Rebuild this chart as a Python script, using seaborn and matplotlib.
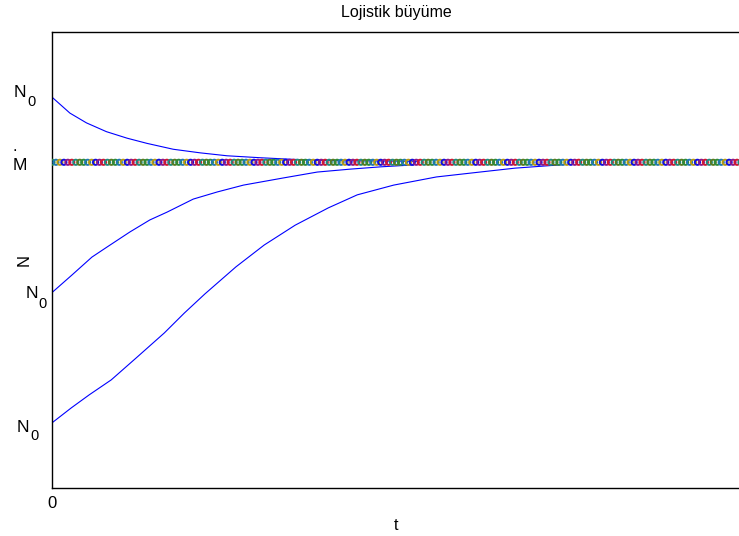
import numpy as np
import pandas as pd
import matplotlib
matplotlib.use("Agg")
import matplotlib.pyplot as plt
import matplotlib.transforms as mtrans
import seaborn as sns

# ---- data ----
M = 1.0
t_top = [0, 0.26, 0.50, 0.79, 1.09, 1.38, 1.76, 2.15, 2.54, 3.02, 3.50, 4.08, 5.31]
n_top = [1.2, 1.151, 1.121, 1.094, 1.074, 1.058, 1.040, 1.029, 1.020, 1.014, 1.009, 1.005, 1.003]
t_mid = [0, 0.29, 0.58, 0.80, 1.13, 1.42, 1.67, 2.05, 2.40, 2.78, 3.36, 3.85, 4.33, 4.77, 5.25]
n_mid = [0.6, 0.654, 0.709, 0.740, 0.786, 0.823, 0.847, 0.887, 0.909, 0.930, 0.952, 0.970, 0.979, 0.986, 0.992]
t_bot = [0, 0.28, 0.54, 0.86, 1.22, 1.63, 1.92, 2.22, 2.67, 3.08, 3.53, 4.01, 4.43, 4.96, 5.58, 6.21, 6.72, 7.50]
n_bot = [0.2, 0.246, 0.286, 0.332, 0.399, 0.476, 0.537, 0.596, 0.679, 0.746, 0.807, 0.860, 0.900, 0.930, 0.955, 0.970, 0.982, 0.994]

ytick_vals = [1.2, 1.0, 0.6, 0.2]
ytick_main = ["N", "M", "N", "N"]
ytick_sub = ["0", "", "0", "0"]
xtick_vals = [0]
xtick_labels = ["0"]
title = "Lojistik büyüme"
xlabel = "t"
ylabel = "N"

marker_colors = ["#2e8b3a", "#1f78b4", "#b89a10", "#1010e0", "#8b1a8b",
                 "#d01830", "#208a80", "#5a7a20"]

# ---- style ----
sns.set_style("white")
plt.rcParams["font.family"] = ["Liberation Sans", "DejaVu Sans"]
for k in ["text.color", "axes.labelcolor", "xtick.color", "ytick.color"]:
    plt.rcParams[k] = "black"

W, H = 739, 536
fig = plt.figure(figsize=(W / 100, H / 100), dpi=100)
ax_l, ax_r, ax_t, ax_b = 52, 741, 32, 488
ax = fig.add_axes([ax_l / W, (H - ax_b) / H, (ax_r - ax_l) / W, (ax_b - ax_t) / H])

curves = pd.concat([
    pd.DataFrame({"t": t_top, "N": n_top, "curve": "top"}),
    pd.DataFrame({"t": t_mid, "N": n_mid, "curve": "mid"}),
    pd.DataFrame({"t": t_bot, "N": n_bot, "curve": "bot"}),
])
sns.lineplot(data=curves, x="t", y="N", units="curve", estimator=None,
             sort=False, color="#0000ff", linewidth=0.8, ax=ax, zorder=2)

t_eq = np.linspace(0, 10, 175)
eq = pd.DataFrame({"t": t_eq, "N": M, "c": np.arange(len(t_eq)) % len(marker_colors)})
sns.scatterplot(data=eq, x="t", y="N", hue="c", palette=marker_colors, s=14,
                marker="o", linewidth=0, legend=False, ax=ax, zorder=3)
coll = ax.collections[-1]
fc = coll.get_facecolors()
coll.set_edgecolors(fc)
coll.set_facecolors("none")
coll.set_linewidths(1.4)

ax.set_xlim(0, 10)
ax.set_ylim(0, 1.4)

for side in ["left", "top", "bottom"]:
    ax.spines[side].set_color("black")
    ax.spines[side].set_linewidth(1.0)
ax.spines["right"].set_visible(False)

ax.set_xticks(xtick_vals)
ax.set_xticklabels(xtick_labels)
ax.tick_params(axis="x", length=0, pad=6, labelsize=12)
ax.set_yticks([])

# y tick labels placed individually (as in the reference)
x_left = [-38, -39, -26, -35]     # px, left edge of main letter from the axis
y_off = [0, -8, -5, -9]           # px, baseline offset
sub_dx = [13.5, 0, 12.5, 13]      # px, subscript start after main letter
sub_dy = [-9, 0, -10, -8]         # px, subscript baseline drop
blend = mtrans.blended_transform_factory(ax.transAxes, ax.transData)
for v, lab, sub, dx, dy, sdx, sdy in zip(ytick_vals, ytick_main, ytick_sub,
                                         x_left, y_off, sub_dx, sub_dy):
    tr = blend + mtrans.ScaledTranslation(dx / 100, dy / 100, fig.dpi_scale_trans)
    ax.text(0, v, lab, transform=tr, ha="left", va="baseline", fontsize=12.5)
    if sub:
        tr2 = blend + mtrans.ScaledTranslation((dx + sdx) / 100, (dy + sdy) / 100,
                                               fig.dpi_scale_trans)
        ax.text(0, v, sub, transform=tr2, ha="left", va="baseline", fontsize=10.5)
# small dot above M
tr = blend + mtrans.ScaledTranslation(-39 / 100, 11 / 100, fig.dpi_scale_trans)
ax.text(0, M, ".", transform=tr, ha="left", va="baseline", fontsize=12)

ax.set_title(title, fontsize=11.5, pad=11)
ax.set_xlabel(xlabel, fontsize=11.5, labelpad=5)
ax.set_ylabel(ylabel, fontsize=12)
ax.yaxis.set_label_coords(-0.029, 0.5)

fig.savefig("out.png", dpi=100)
